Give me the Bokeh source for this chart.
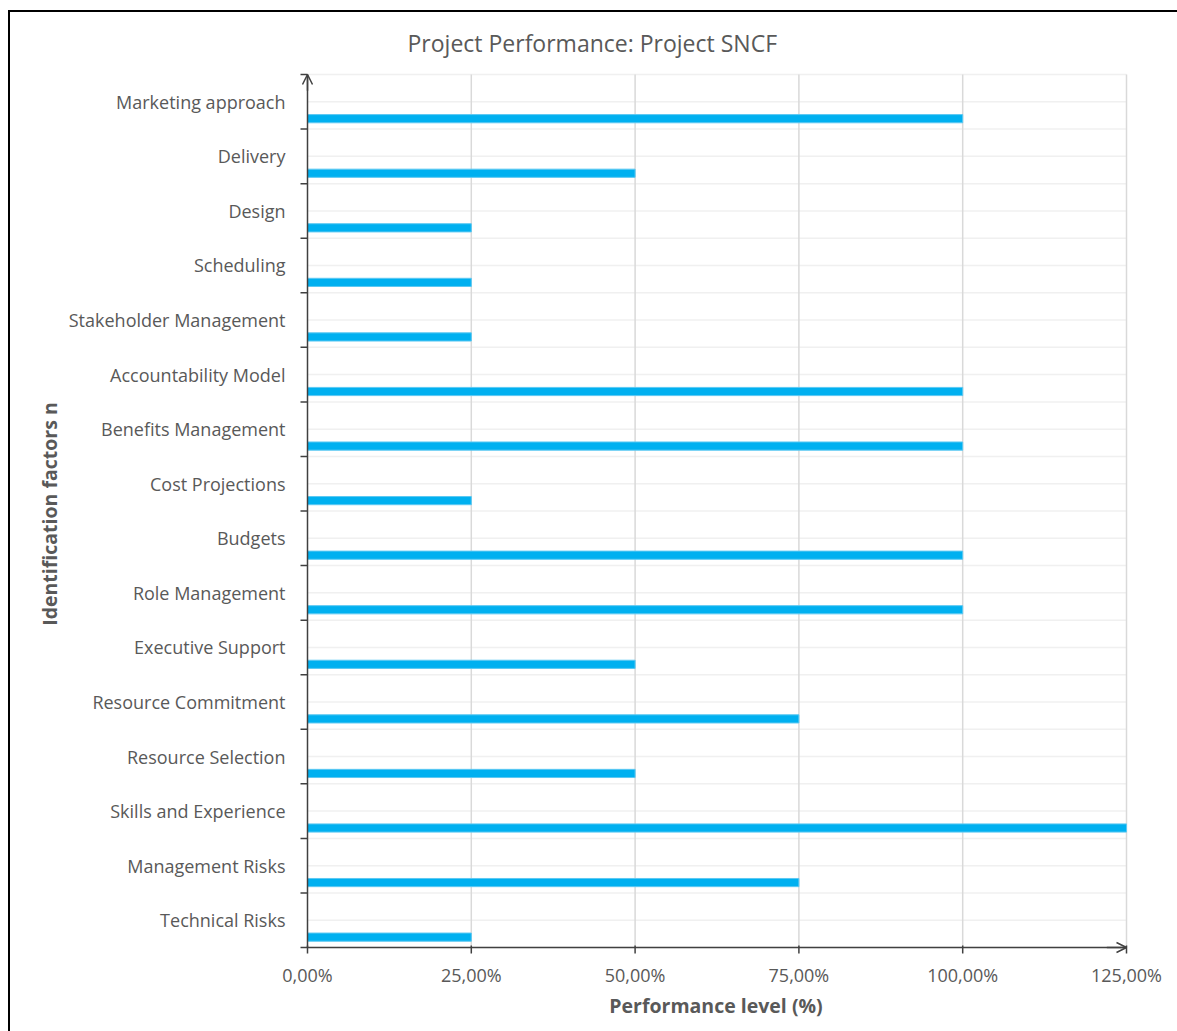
from bokeh.plotting import figure
from bokeh.models import FixedTicker, Range1d, Arrow, OpenHead, ColumnDataSource
from bokeh.embed import file_html
from bokeh.resources import INLINE

categories = ["Marketing approach", "Delivery", "Design", "Scheduling",
              "Stakeholder Management", "Accountability Model", "Benefits Management",
              "Cost Projections", "Budgets", "Role Management", "Executive Support",
              "Resource Commitment", "Resource Selection", "Skills and Experience",
              "Management Risks", "Technical Risks"]
values = [100, 50, 25, 25, 25, 100, 100, 25, 100, 100, 50, 75, 50, 125, 75, 25]
x_ticks = [0, 25, 50, 75, 100, 125]
x_tick_labels = ["0,00%", "25,00%", "50,00%", "75,00%", "100,00%", "125,00%"]

FONT = "Open Sans"
TXT = "#595959"
AX = "#404040"

n = len(categories)
x_max = x_ticks[-1]
centers = [n - i - 0.5 for i in range(n)]
bar_pos = [c - 0.31 for c in centers]
bounds = list(range(n + 1))
half_lines = [k * 0.5 for k in range(2 * n + 1)]

# plot-area geometry (pixels)
PW, PH = 819, 873           # data area
PAD_L, PAD_R, PAD_T, PAD_B = 10, 8, 4, 10
ux = PW / x_max             # px per x unit
uy = PH / n                 # px per y unit

p = figure(frame_width=PW + PAD_L + PAD_R, frame_height=PH + PAD_T + PAD_B,
           min_border_left=287, min_border_right=43, min_border_top=58, min_border_bottom=74,
           x_range=Range1d(-PAD_L / ux, x_max + PAD_R / ux),
           y_range=Range1d(-PAD_B / uy, n + PAD_T / uy),
           output_backend="svg", toolbar_location=None,
           title="Project Performance: Project SNCF")
p.styles = {"margin-left": "8px", "margin-top": "10px",
            "border-left": "2px solid #000", "border-top": "2px solid #000",
            "border-right": "1px solid #d9d9d9"}

p.title.align = "left"
p.title.offset = 110
p.title.text_font = FONT
p.title.text_font_size = "23px"
p.title.text_font_style = "normal"
p.title.text_color = TXT
p.title.standoff = 24

p.outline_line_color = None
p.xgrid.visible = False
p.ygrid.visible = False

# gridlines (drawn inside the data area only)
p.segment(x0=0, x1=x_max, y0=half_lines, y1=half_lines,
          line_color="#f0f0f0", line_width=1.5)
p.segment(x0=x_ticks[1:], x1=x_ticks[1:], y0=0, y1=n,
          line_color="#d9d9d9", line_width=1.5)

# bars
src = ColumnDataSource(dict(y=bar_pos, v=values, cat=categories))
p.hbar(y="y", right="v", left=0, height=0.15, source=src,
       fill_color="#00B0F0", line_color="#5CC8F2", line_width=1)

# axis lines and ticks
p.segment(x0=0, x1=0, y0=0, y1=n, line_color=AX, line_width=1.5)
p.segment(x0=0, x1=x_max, y0=0, y1=0, line_color=AX, line_width=1.5)
p.segment(x0=-7 / ux, x1=0, y0=bounds, y1=bounds, line_color=AX, line_width=1.5)
p.segment(x0=x_ticks, x1=x_ticks, y0=-6 / uy, y1=2 / uy, line_color=AX, line_width=1.5)

p.add_layout(Arrow(end=OpenHead(size=10, line_color=AX, line_width=1.5),
                   x_start=0, y_start=n - 0.3, x_end=0, y_end=n,
                   line_color=AX, line_width=1.5))
p.add_layout(Arrow(end=OpenHead(size=10, line_color=AX, line_width=1.5),
                   x_start=x_max - 3, y_start=0, x_end=x_max, y_end=0,
                   line_color=AX, line_width=1.5))

# x axis (labels only)
xa = p.xaxis[0]
xa.ticker = FixedTicker(ticks=x_ticks)
xa.major_label_overrides = {t: l for t, l in zip(x_ticks, x_tick_labels)}
xa.axis_line_color = None
xa.major_tick_line_color = None
xa.minor_tick_line_color = None
xa.major_tick_out = 0
xa.major_tick_in = 0
xa.major_label_text_font = FONT
xa.major_label_text_font_size = "18px"
xa.major_label_text_color = TXT
xa.major_label_standoff = 5
xa.axis_label = "Performance level (%)"
xa.axis_label_text_font = FONT
xa.axis_label_text_font_size = "19.5px"
xa.axis_label_text_font_style = "bold"
xa.axis_label_text_color = TXT
xa.axis_label_standoff = 2

# y axis (labels only)
ya = p.yaxis[0]
ya.ticker = FixedTicker(ticks=centers)
ya.major_label_overrides = {c: cat for c, cat in zip(centers, categories)}
ya.axis_line_color = None
ya.major_tick_line_color = None
ya.minor_tick_line_color = None
ya.major_tick_out = 0
ya.major_tick_in = 0
ya.major_label_text_font = FONT
ya.major_label_text_font_size = "18px"
ya.major_label_text_color = TXT
ya.major_label_standoff = 12
ya.axis_label = "Identification factors n"
ya.axis_label_text_font = FONT
ya.axis_label_text_font_size = "19.5px"
ya.axis_label_text_font_style = "bold"
ya.axis_label_text_color = TXT
ya.axis_label_standoff = 3

open("out.html", "w").write(file_html(p, INLINE))
